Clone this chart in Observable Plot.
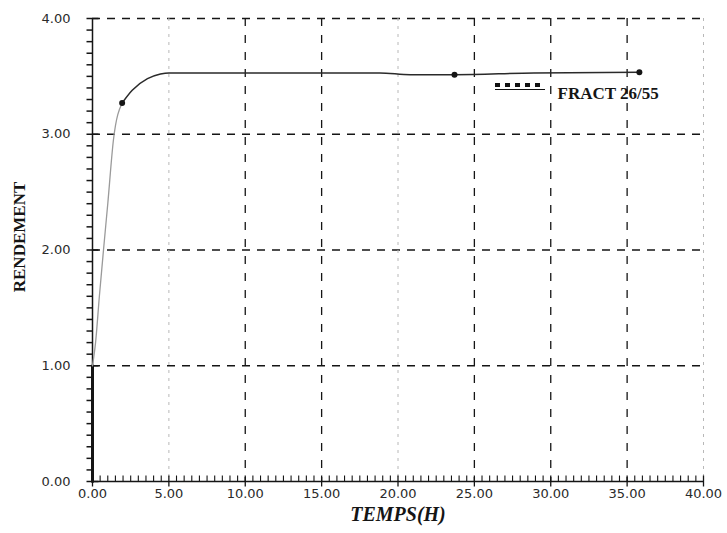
<!DOCTYPE html>
<html>
<head>
<meta charset="utf-8">
<script src="https://cdn.jsdelivr.net/npm/d3@7"></script>
<script src="https://cdn.jsdelivr.net/npm/@observablehq/plot@0.6"></script>
<style>
  html, body { margin: 0; padding: 0; background: #fff; }
  #chart { position: relative; width: 727px; height: 533px; }
  #chart svg { position: absolute; left: 0; top: 0; }
  .swatch { position: absolute; left: 495px; top: 83px; width: 50px; height: 6px;
            border-bottom: 1.5px solid #111; display: flex; gap: 5px; }
  .swatch span { width: 5px; height: 4px; background: #111; display: block; }
</style>
</head>
<body>
<div id="chart"></div>
<script>
// Yield curve of fraction 26/55 over time
const temps     = [0, 0, 0.2, 0.45, 0.72, 1.0, 1.37, 1.94, 2.6, 3.6, 4.45, 5, 10, 15, 18.8, 20.8, 23.7, 28.9, 35.8];
const rendement = [0, 1.0, 1.2, 1.6, 2.0, 2.4, 2.95, 3.27, 3.38, 3.48, 3.52, 3.53, 3.53, 3.53, 3.53, 3.515, 3.515, 3.53, 3.535];

// measured points drawn as dots
const pointTemps = [1.94, 23.7, 35.8];
const pointRend  = [3.27, 3.515, 3.535];

const xTicks = [0, 5, 10, 15, 20, 25, 30, 35, 40];
const yTicks = [0, 1, 2, 3, 4];
const seriesLabel = "FRACT 26/55";

const rows = temps.map((t, i) => ({t, r: rendement[i]}));
const points = pointTemps.map((t, i) => ({t, r: pointRend[i]}));

// minor tick positions: every 0.1 on y, every 0.5 on x
const yMinor = [];
for (let i = 1; i < 40; i++) if (i % 10 !== 0) yMinor.push(i / 10);
const xMinor = [];
for (let i = 1; i < 80; i++) if (i % 10 !== 0) xMinor.push(i / 2);
const fmt = d => d.toFixed(2);

const ink = "#151515";

// tick shapes drawn as custom dot symbols
const tickLeft   = {draw(c) { c.moveTo(-6, 0); c.lineTo(0, 0); }};
const tickCrossY = {draw(c) { c.moveTo(-6, 0); c.lineTo(6, 0); }};
const tickUp     = {draw(c) { c.moveTo(0, 0); c.lineTo(0, -6); }};
const tickCrossX = {draw(c) { c.moveTo(0, 5); c.lineTo(0, -6); }};
const zero = () => 0;

const chart = Plot.plot({
  width: 727,
  height: 533,
  marginLeft: 92,
  marginRight: 24,
  marginTop: 18,
  marginBottom: 52,
  style: {fontFamily: "DejaVu Sans", fontSize: "13px", color: "#2a2a2a", background: "#fff"},
  x: {domain: [0, 40]},
  y: {domain: [0, 4]},
  marks: [
    // grid
    Plot.ruleY([1, 2, 3, 4], {stroke: ink, strokeWidth: 1.3, strokeDasharray: "8,7"}),
    Plot.ruleX([10, 15, 25, 30, 35], {stroke: ink, strokeWidth: 1.3, strokeDasharray: "8,9"}),
    Plot.ruleX([5, 20, 40], {stroke: "#b8b8b8", strokeWidth: 1, strokeDasharray: "3,5"}),
    // axes lines
    Plot.ruleY([0], {stroke: ink, strokeWidth: 1.5}),
    Plot.ruleX([0], {stroke: ink, strokeWidth: 1.5}),
    // minor ticks: outward on the y axis, inward on the x axis
    Plot.dot(yMinor, {x: zero, y: d => d, symbol: tickLeft, fill: "none", stroke: ink, strokeWidth: 1.5}),
    Plot.dot(xMinor, {x: d => d, y: zero, symbol: tickUp, fill: "none", stroke: ink, strokeWidth: 1.1}),
    // major ticks crossing the axes
    Plot.dot(yTicks, {x: zero, y: d => d, symbol: tickCrossY, fill: "none", stroke: ink, strokeWidth: 1.5}),
    Plot.dot(xTicks, {x: d => d, y: zero, symbol: tickCrossX, fill: "none", stroke: ink, strokeWidth: 1.3}),
    // tick labels
    Plot.axisY({ticks: yTicks, tickSize: 0, tickPadding: 22, tickFormat: fmt, label: null}),
    Plot.axisX({ticks: xTicks, tickSize: 0, tickPadding: 7, tickFormat: fmt, label: null}),
    // curve: steep rise drawn faint, plateau drawn dark
    Plot.line(rows.slice(0, 2), {x: "t", y: "r", stroke: ink, strokeWidth: 3}),
    Plot.line(rows.slice(1, 8), {x: "t", y: "r", stroke: "#9a9a9a", strokeWidth: 1.3, curve: "monotone-x"}),
    Plot.line(rows.slice(7), {x: "t", y: "r", stroke: "#2a2a2a", strokeWidth: 1.5, curve: "monotone-x"}),
    Plot.dot(points, {x: "t", y: "r", r: 3, fill: ink}),
    // axis titles and legend text
    Plot.text(["TEMPS(H)"], {frameAnchor: "bottom", dy: 39, fontFamily: "Liberation Serif", fontSize: 20,
      fontStyle: "italic", fontWeight: "bold", fill: ink, letterSpacing: 3}),
    Plot.text(["RENDEMENT"], {frameAnchor: "left", textAnchor: "middle", dx: -73, dy: -13, rotate: -90,
      fontFamily: "Liberation Serif", fontSize: 17, fontWeight: "bold", fill: ink, letterSpacing: 0.5}),
    Plot.text([seriesLabel], {frameAnchor: "top-left", dx: 465, dy: 68, textAnchor: "start",
      fontFamily: "Liberation Serif", fontSize: 17, fontWeight: "bold", fill: ink})
  ]
});

const root = document.getElementById("chart");
root.appendChild(chart);
const sw = document.createElement("div");
sw.className = "swatch";
for (let i = 0; i < 5; i++) sw.appendChild(document.createElement("span"));
root.appendChild(sw);
</script>
</body>
</html>
